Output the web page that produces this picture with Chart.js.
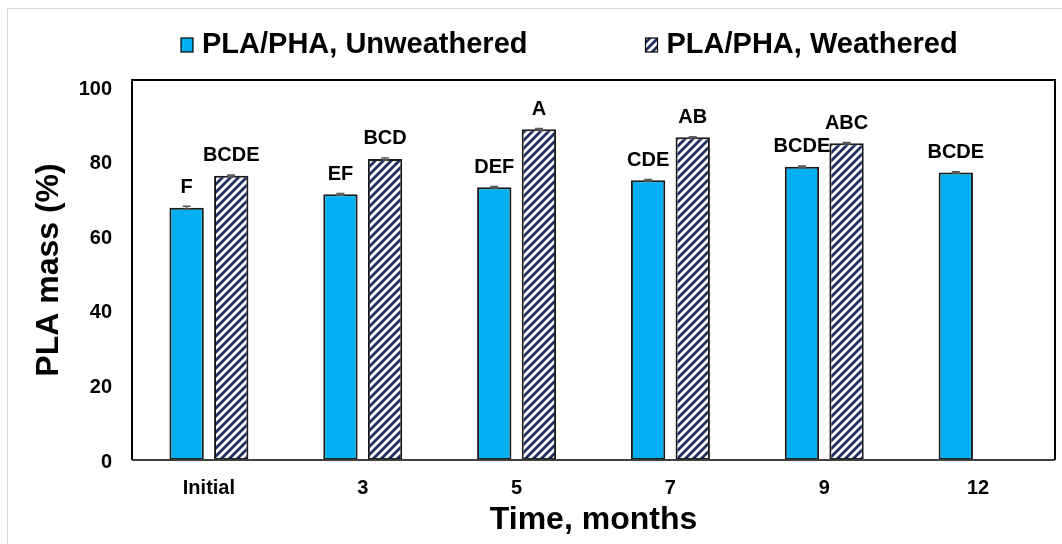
<!DOCTYPE html>
<html>
<head>
<meta charset="utf-8">
<script src="https://cdn.jsdelivr.net/npm/chart.js@4"></script>
<style>
  html, body { margin: 0; padding: 0; background: #fff; }
  #wrap { width: 1062px; height: 544px; position: relative; }
</style>
</head>
<body>
<div id="wrap"><canvas id="grafico"></canvas></div>
<script>
// data
let meses = ['Initial', '3', '5', '7', '9', '12'];
let naoIntemp = [67.7, 71.3, 73.2, 75.1, 78.7, 77.2];
let intemp = [76.3, 80.8, 88.8, 86.6, 85.0, null];
let erroNao = [0.4, 0.25, 0.2, 0.2, 0.2, 0.2];
let erroInt = [0.2, 0.25, 0.2, 0.2, 0.2, null];
let letrasNao = ['F', 'EF', 'DEF', 'CDE', 'BCDE', 'BCDE'];
let letrasInt = ['BCDE', 'BCD', 'A', 'AB', 'ABC', null];
let yTicks = [0, 20, 40, 60, 80, 100];

const FONTE = "'Liberation Sans', Arial, sans-serif";

// hatch pattern for weathered bars
function listras(){
  let c = document.createElement('canvas');
  c.width = 8; c.height = 8;
  let g = c.getContext('2d');
  g.fillStyle = '#fff';
  g.fillRect(0, 0, 8, 8);
  g.strokeStyle = '#1c2f5e';
  g.lineWidth = 2.8;
  g.beginPath();
  g.moveTo(-2, 10); g.lineTo(10, -2);
  g.moveTo(-6, 6); g.lineTo(6, -6);
  g.moveTo(2, 14); g.lineTo(14, 2);
  g.stroke();
  return g.createPattern(c, 'repeat');
}
let hachura = listras();

let extras = {
  id: 'extras',
  beforeDraw(chart){
    let ctx = chart.ctx;
    ctx.save();
    ctx.strokeStyle = '#d9d9d9';
    ctx.lineWidth = 1;
    ctx.strokeRect(7.5, 8.5, 2000, 2000);
    ctx.restore();
  },
  afterDatasetsDraw(chart){
    let ctx = chart.ctx;
    let y = chart.scales.y;
    let a = chart.chartArea;
    ctx.save();
    // error caps and letters
    let erros = [erroNao, erroInt];
    let letras = [letrasNao, letrasInt];
    chart.data.datasets.forEach((ds, i) => {
      let meta = chart.getDatasetMeta(i);
      meta.data.forEach((bar, j) => {
        if (ds.data[j] == null) return;
        let e = erros[i][j];
        let y1 = y.getPixelForValue(ds.data[j] + e);
        let y2 = y.getPixelForValue(ds.data[j] - e);
        ctx.strokeStyle = '#595959';
        ctx.lineWidth = 1.5;
        ctx.beginPath();
        ctx.moveTo(bar.x, y1); ctx.lineTo(bar.x, y2);
        ctx.moveTo(bar.x - 4, y1); ctx.lineTo(bar.x + 4, y1);
        ctx.moveTo(bar.x - 4, y2); ctx.lineTo(bar.x + 4, y2);
        ctx.stroke();
        if (letras[i][j]) {
          ctx.fillStyle = '#000';
          ctx.font = 'bold 20px ' + FONTE;
          ctx.textAlign = 'center';
          ctx.textBaseline = 'middle';
          ctx.fillText(letras[i][j], bar.x, bar.y - 20);
        }
      });
    });
    // plot area box
    ctx.strokeStyle = '#000';
    ctx.lineWidth = 2;
    ctx.beginPath();
    ctx.moveTo(a.left, a.bottom);
    ctx.lineTo(a.left, a.top);
    ctx.lineTo(a.right, a.top);
    ctx.lineTo(a.right, a.bottom);
    ctx.stroke();
    ctx.strokeStyle = '#404040';
    ctx.beginPath();
    ctx.moveTo(a.left, a.bottom);
    ctx.lineTo(a.right, a.bottom);
    ctx.stroke();

    // legend
    ctx.font = 'bold 29px ' + FONTE;
    ctx.textBaseline = 'middle';
    ctx.textAlign = 'left';
    let x = 181;
    chart.data.datasets.forEach(ds => {
      ctx.fillStyle = ds.backgroundColor;
      ctx.fillRect(x, 38, 12, 14);
      ctx.strokeStyle = '#000';
      ctx.lineWidth = 1.2;
      ctx.strokeRect(x, 38, 12, 14);
      ctx.fillStyle = '#000';
      ctx.fillText(ds.label, x + 21, 45);
      x += 21 + ctx.measureText(ds.label).width + 118;
    });
    ctx.restore();
  }
};

let ctx = document.getElementById('grafico');
let chart = new Chart(ctx, {
  type: 'bar',
  data: {
    labels: meses,
    datasets: [
      { label: 'PLA/PHA, Unweathered', data: naoIntemp, backgroundColor: '#00b0f0',
        borderColor: '#1a1a1a', borderWidth: 2, borderSkipped: false },
      { label: 'PLA/PHA, Weathered', data: intemp, backgroundColor: hachura,
        borderColor: '#1a1a1a', borderWidth: 2, borderSkipped: false }
    ]
  },
  options: {
    responsive: true,
    maintainAspectRatio: false,
    animation: false,
    categoryPercentage: 0.58,
    barPercentage: 0.77,
    layout: { padding: { left: 20, right: 7, top: 80, bottom: 0 } },
    plugins: { legend: { display: false }, tooltip: { enabled: false } },
    scales: {
      x: {
        grid: { display: false, drawTicks: false },
        border: { display: false },
        ticks: { color: '#000', font: { family: FONTE, size: 20, weight: 'bold' }, padding: 16 },
        title: { display: true, text: 'Time, months', color: '#000',
          font: { family: FONTE, size: 32, weight: 'bold' }, padding: { top: 0, bottom: 5 } },
        afterFit(s){ s.height = 84; }
      },
      y: {
        min: 0, max: 102,
        grid: { display: false, drawTicks: false },
        border: { display: false },
        afterBuildTicks(s){ s.ticks = yTicks.map(v => ({ value: v })); },
        ticks: { color: '#000', font: { family: FONTE, size: 20, weight: 'bold' }, padding: 20, labelOffset: 2 },
        title: { display: true, text: 'PLA mass (%)', color: '#000',
          font: { family: FONTE, size: 32, weight: 'bold' }, padding: { top: 10, bottom: 0 } },
        afterFit(s){ s.width = 112; }
      }
    }
  },
  plugins: [extras]
});
</script>
</body>
</html>
